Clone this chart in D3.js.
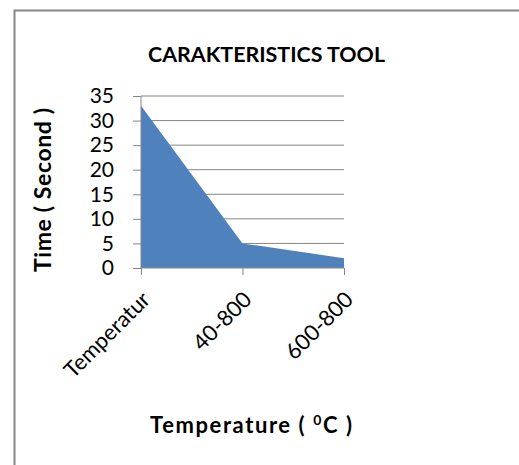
<!DOCTYPE html>
<html><head><meta charset="utf-8">
<script src="https://cdn.jsdelivr.net/npm/d3@7"></script>
<style>body{margin:0;background:#fff}svg{display:block}text{font-family:Lato,"Open Sans",sans-serif}</style>
</head><body>
<svg id="c" width="519" height="465"></svg>
<script>
const categories = ["Temperatur", "40-800", "600-800"];
const values = [33, 5, 2];
const yTicks = [0, 5, 10, 15, 20, 25, 30, 35];
const title = "CARAKTERISTICS TOOL";
const yTitle = "Time ( Second )";

const svg = d3.select("#c");
svg.append("rect").attr("x", 14.5).attr("y", 10.5).attr("width", 520).attr("height", 470)
  .attr("fill", "#fff").attr("stroke", "#888").attr("stroke-width", 2);

const L = 141, R = 344, T = 96, B = 268;
const x = d3.scalePoint().domain(categories).range([L, R]);
const y = d3.scaleLinear().domain([0, 35]).range([B, T]);

// gridlines
svg.append("g").selectAll("line").data(yTicks.filter(d => d > 0)).join("line")
  .attr("x1", L).attr("x2", R).attr("y1", d => y(d)).attr("y2", d => y(d))
  .attr("stroke", "#868686").attr("stroke-width", 1);

// area
const area = d3.area().x(d => x(d.c)).y0(y(0)).y1(d => y(d.v));
svg.append("path").datum(categories.map((c, i) => ({c, v: values[i]})))
  .attr("d", area).attr("fill", "#4F81BD");

// y axis
const ya = svg.append("g").attr("transform", `translate(${L},0)`)
  .call(d3.axisLeft(y).tickValues(yTicks).tickSize(8).tickPadding(19));
ya.select(".domain").attr("stroke", "#868686").attr("d", `M0,${T}V${B}`);
ya.selectAll(".tick line").attr("stroke", "#868686");
ya.selectAll(".tick text").attr("font-size", 21).attr("fill", "#000")
  .attr("font-family", "Lato, sans-serif");

// x axis
const xa = svg.append("g").attr("transform", `translate(0,${B})`)
  .call(d3.axisBottom(x).tickSize(7).tickSizeOuter(0));
xa.select(".domain").attr("stroke", "#868686").attr("d", `M${L},0H${R}`);
xa.selectAll(".tick line").attr("stroke", "#868686");
xa.selectAll(".tick text").attr("font-size", 22).attr("fill", "#000")
  .attr("text-anchor", "end").attr("dy", 0).attr("y", 0)
  .attr("transform", "translate(10,33) rotate(-45)")
  .attr("font-family", "Lato, sans-serif");

// titles
svg.append("text").attr("x", 266.5).attr("y", 62).attr("text-anchor", "middle")
  .attr("font-size", 20).attr("font-weight", "bold")
  .attr("textLength", 237).attr("lengthAdjust", "spacingAndGlyphs").text(title);
svg.append("text").attr("transform", `translate(51,190) rotate(-90)`)
  .attr("text-anchor", "middle").attr("font-size", 23).attr("font-weight", "bold")
  .attr("textLength", 164).attr("lengthAdjust", "spacing").text(yTitle);
const xt = svg.append("text").attr("x", 251).attr("y", 433).attr("text-anchor", "middle")
  .attr("font-size", 22).attr("font-weight", "bold")
  .attr("textLength", 202).attr("lengthAdjust", "spacing");
xt.append("tspan").text("Temperature ( ");
xt.append("tspan").attr("font-size", 14).attr("dy", -8).text("0");
xt.append("tspan").attr("dy", 8).text("C )");
</script>
</body></html>
